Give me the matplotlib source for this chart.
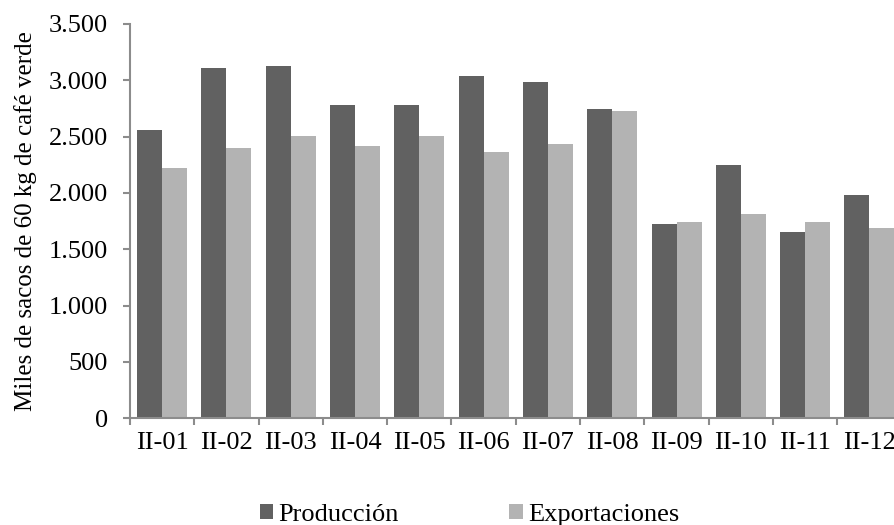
import matplotlib.pyplot as plt
import numpy as np

categories = ["II-01", "II-02", "II-03", "II-04", "II-05", "II-06",
              "II-07", "II-08", "II-09", "II-10", "II-11", "II-12"]
produccion = [2555, 3106, 3124, 2780, 2780, 3038, 2988, 2748, 1723, 2244, 1655, 1984]
exportaciones = [2226, 2401, 2502, 2419, 2502, 2366, 2434, 2727, 1744, 1812, 1744, 1690]
yticks = [0, 500, 1000, 1500, 2000, 2500, 3000, 3500]
ytick_labels = ["0", "500", "1.000", "1.500", "2.000", "2.500", "3.000", "3.500"]

plt.rcParams['font.family'] = ['Liberation Serif', 'DejaVu Serif']

fig = plt.figure(figsize=(8.94, 5.25), dpi=100)
ax = fig.add_axes([0.1454, 0.2032, 0.8631, 0.7511])

x = np.arange(len(categories))
w = 0.389
axis_col = "#8c8c8c"

ax.bar(x - w / 2, produccion, width=w, color="#616161", label="Producción")
ax.bar(x + w / 2, exportaciones, width=w, color="#b3b3b3", label="Exportaciones")

ax.set_xlim(-0.5, len(categories) - 0.5)
ax.set_ylim(0, 3500)

# boundaries get the tick marks, centres get the labels
ax.set_xticks(np.arange(len(categories) + 1) - 0.5)
ax.set_xticklabels([])
ax.set_xticks(x, minor=True)
ax.set_xticklabels(categories, minor=True, fontsize=19)
ax.tick_params(axis='x', which='minor', length=0, pad=10)
ax.tick_params(axis='x', which='major', length=5, width=1.5, color=axis_col)

ax.set_yticks(yticks)
ax.set_yticklabels(ytick_labels, fontsize=19)
ax.tick_params(axis='y', length=5, width=1.5, color=axis_col, pad=11)

for side in ["top", "right"]:
    ax.spines[side].set_visible(False)
for side in ["left", "bottom"]:
    ax.spines[side].set_color(axis_col)
    ax.spines[side].set_linewidth(1.5)

ax.set_ylabel("Miles de sacos de 60 kg de café verde", fontsize=18, labelpad=8)

fig.legend(loc="center", bbox_to_anchor=(0.525, 0.019), ncol=2, frameon=False,
           fontsize=19, handlelength=0.5, handleheight=0.5, handletextpad=0.2,
           columnspacing=4.2, borderaxespad=0)

fig.savefig("out.png", dpi=100)
